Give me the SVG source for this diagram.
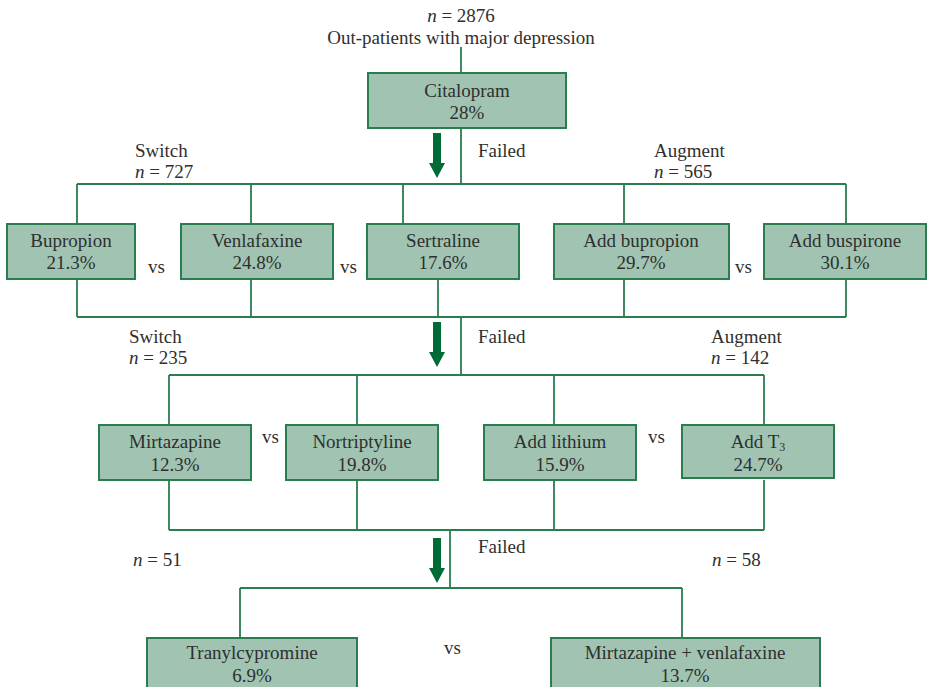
<svg xmlns="http://www.w3.org/2000/svg" width="927" height="687" viewBox="0 0 927 687">
  <style>
    .t text { font-size: 19px; fill: #2f2f2f; }
    .c { text-anchor: middle; }
    .box { fill: #a0c4b1; stroke: #2a7d4e; stroke-width: 2; }
    .wire { fill: none; stroke: #2a7d4e; stroke-width: 1.8; }
    .arrow { fill: #006b36; }
    .it { font-style: italic; }
  </style>
  <defs>
    <!-- thick downward arrow, origin at shaft top centre -->
    <path id="down" d="M -4 0 H 4 V 30 H 8 L 0 45 L -8 30 H -4 Z"/>
  </defs>

  <rect width="927" height="687" fill="#ffffff"/>

  <!-- connectors -->
  <g id="connectors">
    <!-- stage 1 -->
    <path class="wire" d="M461 47 V73"/>
    <path class="wire" d="M461 128 V184 M77 184 H846 M77 184 V224 M251 184 V224 M403 184 V224 M624 184 V224 M846 184 V224"/>
    <!-- stage 2 -->
    <path class="wire" d="M77 279 V317 M251 279 V317 M438 279 V317 M624 279 V317 M846 279 V317 M77 317 H846"/>
    <path class="wire" d="M461 317 V375 M169 375 H764 M169 375 V425 M357 375 V425 M554 375 V425 M764 375 V425"/>
    <!-- stage 3 -->
    <path class="wire" d="M169 480 V530 M357 480 V530 M554 480 V530 M764 480 V530 M169 530 H764"/>
    <path class="wire" d="M450 530 V588 M240 588 H682 M240 588 V638 M682 588 V638"/>
    <use href="#down" class="arrow" x="437" y="133"/>
    <use href="#down" class="arrow" x="437" y="322"/>
    <use href="#down" class="arrow" x="437" y="538"/>
  </g>

  <g class="t" font-family="'Liberation Serif', 'DejaVu Serif', serif">
  <!-- header -->
  <g id="header">
    <text class="c" x="461" y="22"><tspan class="it">n</tspan> = 2876</text>
    <text class="c" x="461" y="44">Out-patients with major depression</text>
  </g>

  <g id="citalopram">
    <rect class="box" x="368" y="73" width="198" height="55"/>
    <text class="c" x="467" y="97">Citalopram</text>
    <text class="c" x="467" y="119">28%</text>
  </g>

  <!-- level 2 labels -->
  <g id="labels-2">
    <text x="478" y="157">Failed</text>
    <text x="135" y="157">Switch</text>
    <text x="135" y="178"><tspan class="it">n</tspan> = 727</text>
    <text x="654" y="157">Augment</text>
    <text x="654" y="178"><tspan class="it">n</tspan> = 565</text>
    <text x="148" y="273">vs</text>
    <text x="340" y="273">vs</text>
    <text x="735" y="273">vs</text>
  </g>

  <g id="bupropion">
    <rect class="box" x="7" y="224" width="128" height="55"/>
    <text class="c" x="71" y="247">Bupropion</text>
    <text class="c" x="71" y="269">21.3%</text>
  </g>
  <g id="venlafaxine">
    <rect class="box" x="181" y="224" width="152" height="55"/>
    <text class="c" x="257" y="247">Venlafaxine</text>
    <text class="c" x="257" y="269">24.8%</text>
  </g>
  <g id="sertraline">
    <rect class="box" x="367" y="224" width="152" height="55"/>
    <text class="c" x="443" y="247">Sertraline</text>
    <text class="c" x="443" y="269">17.6%</text>
  </g>
  <g id="add-bupropion">
    <rect class="box" x="554" y="224" width="175" height="55"/>
    <text class="c" x="641" y="247">Add bupropion</text>
    <text class="c" x="641" y="269">29.7%</text>
  </g>
  <g id="add-buspirone">
    <rect class="box" x="764" y="224" width="162" height="55"/>
    <text class="c" x="845" y="247">Add buspirone</text>
    <text class="c" x="845" y="269">30.1%</text>
  </g>

  <!-- level 3 labels -->
  <g id="labels-3">
    <text x="478" y="343">Failed</text>
    <text x="129" y="343">Switch</text>
    <text x="129" y="364"><tspan class="it">n</tspan> = 235</text>
    <text x="711" y="343">Augment</text>
    <text x="711" y="364"><tspan class="it">n</tspan> = 142</text>
    <text x="262" y="443">vs</text>
    <text x="648" y="443">vs</text>
  </g>

  <g id="mirtazapine">
    <rect class="box" x="99" y="425" width="152" height="55"/>
    <text class="c" x="175" y="448">Mirtazapine</text>
    <text class="c" x="175" y="471">12.3%</text>
  </g>
  <g id="nortriptyline">
    <rect class="box" x="286" y="425" width="152" height="55"/>
    <text class="c" x="362" y="448">Nortriptyline</text>
    <text class="c" x="362" y="471">19.8%</text>
  </g>
  <g id="add-lithium">
    <rect class="box" x="484" y="425" width="152" height="55"/>
    <text class="c" x="560" y="448">Add lithium</text>
    <text class="c" x="560" y="471">15.9%</text>
  </g>
  <g id="add-t3">
    <rect class="box" x="682" y="425" width="152" height="53"/>
    <text class="c" x="758" y="448">Add T<tspan font-size="12" dy="3">3</tspan></text>
    <text class="c" x="758" y="471">24.7%</text>
  </g>

  <!-- level 4 labels -->
  <g id="labels-4">
    <text x="478" y="553">Failed</text>
    <text x="133" y="566"><tspan class="it">n</tspan> = 51</text>
    <text x="712" y="566"><tspan class="it">n</tspan> = 58</text>
    <text x="444" y="654">vs</text>
  </g>

  <g id="tranylcypromine">
    <rect class="box" x="147" y="638" width="210" height="60"/>
    <text class="c" x="252" y="659">Tranylcypromine</text>
    <text class="c" x="252" y="682">6.9%</text>
  </g>
  <g id="mirtazapine-venlafaxine">
    <rect class="box" x="551" y="638" width="269" height="60"/>
    <text class="c" x="685" y="659">Mirtazapine + venlafaxine</text>
    <text class="c" x="685" y="682">13.7%</text>
  </g>
  </g>
</svg>
